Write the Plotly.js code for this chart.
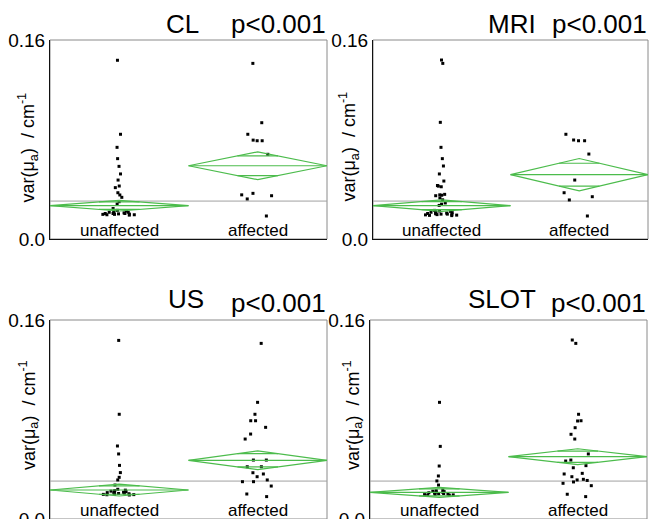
<!DOCTYPE html>
<html>
<head>
<meta charset="utf-8">
<script src="https://cdn.plot.ly/plotly-3.0.1.min.js"></script>
<style>
  html, body { margin: 0; padding: 0; background: #fff; }
  #chart { width: 662px; height: 519px; }
</style>
</head>
<body>
<div id="chart"></div>
<script>
// Groups and panels
const groups = ['unaffected', 'affected'];
const modalities = ['CL', 'MRI', 'US', 'SLOT'];
const pValues = ['p<0.001', 'p<0.001', 'p<0.001', 'p<0.001'];
const yTickVals = [0, 0.16];
const yTickText = ['0.0', '0.16'];

// var(mu_a) per subject, cm^-1
const clUnaffected = [0.1437, 0.0842, 0.0737, 0.0646, 0.0584, 0.0523, 0.0474, 0.0426, 0.0413, 0.0372,
  0.0354, 0.0335, 0.0300, 0.0281, 0.0245, 0.0230, 0.0225, 0.0220, 0.0215, 0.0215, 0.0210, 0.0210,
  0.0205, 0.0205, 0.0205, 0.0202, 0.0200, 0.0198, 0.0198, 0.0195, 0.0195, 0.0192];
const clAffected = [0.1412, 0.0935, 0.0842, 0.0795, 0.0790, 0.0790, 0.0681, 0.0367, 0.0355, 0.0348, 0.0322, 0.0185];

const mriUnaffected = [0.1439, 0.1412, 0.0938, 0.0737, 0.0646, 0.0587, 0.0523, 0.0466, 0.0430, 0.0425,
  0.0420, 0.0359, 0.0355, 0.0352, 0.0348, 0.0330, 0.0315, 0.0290, 0.0280, 0.0270, 0.0230, 0.0225,
  0.0222, 0.0218, 0.0215, 0.0212, 0.0210, 0.0208, 0.0205, 0.0203, 0.0200, 0.0200, 0.0198, 0.0196,
  0.0194, 0.0192, 0.0190, 0.0188];
const mriAffected = [0.0842, 0.0796, 0.0790, 0.0790, 0.0683, 0.0474, 0.0372, 0.0340, 0.0314, 0.0185];

const usUnaffected = [0.1436, 0.0842, 0.0587, 0.0523, 0.0431, 0.0373, 0.0335, 0.0314, 0.0273, 0.0239,
  0.0232, 0.0228, 0.0224, 0.0220, 0.0218, 0.0215, 0.0212, 0.0210, 0.0208, 0.0205, 0.0203, 0.0200,
  0.0198, 0.0196, 0.0195, 0.0193];
const usAffected = [0.1412, 0.0938, 0.0842, 0.0790, 0.0790, 0.0737, 0.0683, 0.0643, 0.0474, 0.0474,
  0.0420, 0.0420, 0.0372, 0.0362, 0.0340, 0.0314, 0.0300, 0.0300, 0.0265, 0.0201, 0.0180];

const slotUnaffected = [0.0938, 0.0584, 0.0426, 0.0346, 0.0306, 0.0273, 0.0233, 0.0228, 0.0224, 0.0220,
  0.0217, 0.0214, 0.0211, 0.0208, 0.0205, 0.0203, 0.0200, 0.0198, 0.0196, 0.0194, 0.0193, 0.0192];
const slotAffected = [0.1439, 0.1412, 0.0842, 0.0790, 0.0788, 0.0734, 0.0681, 0.0643, 0.0523, 0.0474,
  0.0466, 0.0429, 0.0412, 0.0367, 0.0362, 0.0340, 0.0319, 0.0314, 0.0310, 0.0298, 0.0287, 0.0268,
  0.0199, 0.0180];

// Group means and 95% CI half-widths (means diamonds), grand mean per panel
const groupMeans = [[0.0268, 0.0589], [0.0268, 0.0517], [0.0233, 0.0472], [0.0214, 0.0501]];
const ciHalfWidths = [[0.0043, 0.0112], [0.0046, 0.0130], [0.0048, 0.0075], [0.0040, 0.0064]];
const grandMeans = [0.0305, 0.0305, 0.0305, 0.0305];

const panelData = [
  [clUnaffected, clAffected],
  [mriUnaffected, mriAffected],
  [usUnaffected, usAffected],
  [slotUnaffected, slotAffected]
];

// Layout geometry (pixels in a 662 x 519 figure)
const W = 662, H = 519;
const boxes = [
  {x0: 50, x1: 327, y0: 40, y1: 239},
  {x0: 373, x1: 648, y0: 40, y1: 239},
  {x0: 50, x1: 327, y0: 320, y1: 519},
  {x0: 370, x1: 647, y0: 320, y1: 519}
];
const nameCenters = [183, 512, 185.5, 501.5];
const titleRows = [[24, 24], [24, 24], [299, 303], [299, 303]];
const yTitlePos = [[28, 147.5], [349, 146.5], [28, 415], [352, 415]];

const FONT = 'Liberation Sans, Arial, sans-serif';
const GREEN = '#4cbc4c';
const px = v => v / W;
const py = v => 1 - v / H;

const traces = [];
const layout = {
  width: W, height: H,
  margin: {l: 0, r: 0, t: 0, b: 0},
  paper_bgcolor: '#fff', plot_bgcolor: '#fff',
  showlegend: false,
  font: {family: FONT, color: '#000'},
  shapes: [], annotations: []
};

const r2 = Math.SQRT1_2;
modalities.forEach((mod, k) => {
  const s = k === 0 ? '' : String(k + 1);
  const xa = 'x' + s, ya = 'y' + s;
  const b = boxes[k];

  layout['xaxis' + s] = {
    domain: [px(b.x0), px(b.x1)], anchor: ya,
    range: [-0.5, 1.5], fixedrange: true,
    showticklabels: false, ticks: '',
    showgrid: false, zeroline: false,
    showline: true, linecolor: '#111', linewidth: 1
  };
  layout['yaxis' + s] = {
    domain: [py(b.y1), py(b.y0)], anchor: xa,
    range: [0, 0.16], fixedrange: true,
    tickvals: yTickVals, ticktext: yTickText, ticks: '',
    ticklabeloverflow: 'allow',
    tickfont: {family: FONT, size: 19, color: '#000'},
    showgrid: false, zeroline: false,
    showline: true, linecolor: '#111', linewidth: 1
  };

  // frame (top/right edges lighter)
  layout.shapes.push({
    type: 'rect', xref: xa + ' domain', yref: ya + ' domain',
    x0: 0, x1: 1, y0: 0, y1: 1, layer: 'below',
    line: {color: '#8a8a8a', width: 1}
  });
  // grand mean reference line
  layout.shapes.push({
    type: 'line', xref: xa + ' domain', yref: ya,
    x0: 0, x1: 1, y0: grandMeans[k], y1: grandMeans[k], layer: 'below',
    line: {color: '#a0a0a0', width: 1}
  });

  // individual subjects, spread horizontally by local density
  groups.forEach((g, gi) => {
    traces.push({
      type: 'box', xaxis: xa, yaxis: ya, name: g,
      x0: gi, y: panelData[k][gi], width: 0.28,
      boxpoints: 'all', jitter: 1, pointpos: 0,
      fillcolor: 'rgba(0,0,0,0)', line: {width: 0, color: 'rgba(0,0,0,0)'},
      whiskerwidth: 0,
      marker: {symbol: 'square', size: 3, color: '#000', line: {width: 0}},
      hoverinfo: 'y'
    });
    // group label just inside the bottom of the panel
    layout.annotations.push({
      xref: xa, yref: ya + ' domain', x: gi, y: 0.045,
      xanchor: 'center', yanchor: 'middle', showarrow: false,
      text: g, font: {family: FONT, size: 17, color: '#000'}
    });
  });

  // means diamonds with overlap marks
  const dx = [], dy = [];
  groups.forEach((g, gi) => {
    const m = groupMeans[k][gi], h = ciHalfWidths[k][gi];
    const ov = 0.5 * (1 - r2);
    dx.push(gi - 0.5, gi, gi + 0.5, gi, gi - 0.5, null,
            gi - 0.5, gi + 0.5, null,
            gi - ov, gi + ov, null,
            gi - ov, gi + ov, null);
    dy.push(m, m + h, m, m - h, m, null,
            m, m, null,
            m + h * r2, m + h * r2, null,
            m - h * r2, m - h * r2, null);
  });
  traces.push({
    type: 'scatter', mode: 'lines', xaxis: xa, yaxis: ya,
    x: dx, y: dy, line: {color: GREEN, width: 1.2},
    hoverinfo: 'skip', cliponaxis: false
  });

  // panel titles
  layout.annotations.push({
    xref: 'paper', yref: 'paper', x: px(nameCenters[k]), y: py(titleRows[k][0]),
    xanchor: 'center', yanchor: 'middle', showarrow: false,
    text: mod, font: {family: FONT, size: 26, color: '#000'}
  });
  layout.annotations.push({
    xref: 'paper', yref: 'paper', x: px(b.x1 + 1), y: py(titleRows[k][1]),
    xanchor: 'right', yanchor: 'middle', showarrow: false,
    text: pValues[k].replace('<', '&lt;'), font: {family: FONT, size: 26, color: '#000'}
  });
  // y axis label
  layout.annotations.push({
    xref: 'paper', yref: 'paper', x: px(yTitlePos[k][0]), y: py(yTitlePos[k][1]),
    xanchor: 'center', yanchor: 'middle', showarrow: false, textangle: -90,
    text: 'var(μ<sub>a</sub>)&nbsp;&nbsp;/ cm<sup>-1</sup>',
    font: {family: FONT, size: 18, color: '#000'}
  });
});

Plotly.newPlot('chart', traces, layout, {displayModeBar: false, staticPlot: true});
</script>
</body>
</html>
